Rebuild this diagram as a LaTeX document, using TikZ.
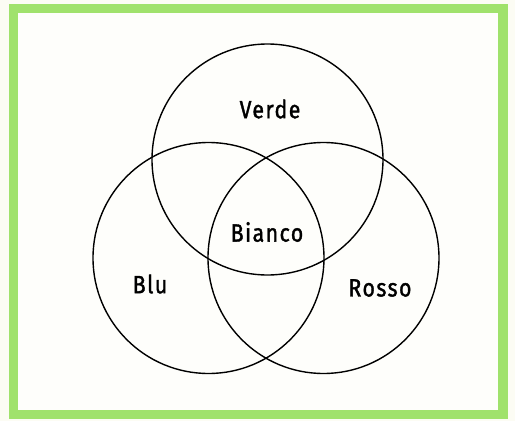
\documentclass[tikz,border=0pt]{standalone}
\usepackage{fontspec}
\setmainfont{Fira Sans}[FakeStretch=0.85, FakeBold=1.5, LetterSpace=6]
\usepackage{xcolor}
\usepackage{tikz}
\usetikzlibrary{positioning}
\definecolor{framegreen}{RGB}{160,226,108}
\definecolor{paper}{RGB}{252,252,244}

\begin{document}
\begin{tikzpicture}[x=1pt, y=-1pt, every node/.style={font=\fontsize{25}{28}\selectfont},
set/.style={draw, circle, line width=1.4pt, minimum size=231pt, inner sep=0pt}]
\useasboundingbox (0,0) rectangle (515,421);
\fill[paper] (0,0) rectangle (515,421);
\draw[framegreen, line width=9.5pt, fill=white!60!paper] (13.5,8.5) rectangle (503,414.5);
\node[set] (verde) at (267.5,159.5) {};
\node[set] (blu) at (208.5,258) {};
\node[set] (rosso) at (323.5,258) {};
\node (verdelbl) at (270,109) {Verde};
\node (biancolbl) at (267,232) {Bianco};
\node (blulbl) at (150,284) {Blu};
\node (rossolbl) at (380,288) {Rosso};
\end{tikzpicture}
\end{document}
